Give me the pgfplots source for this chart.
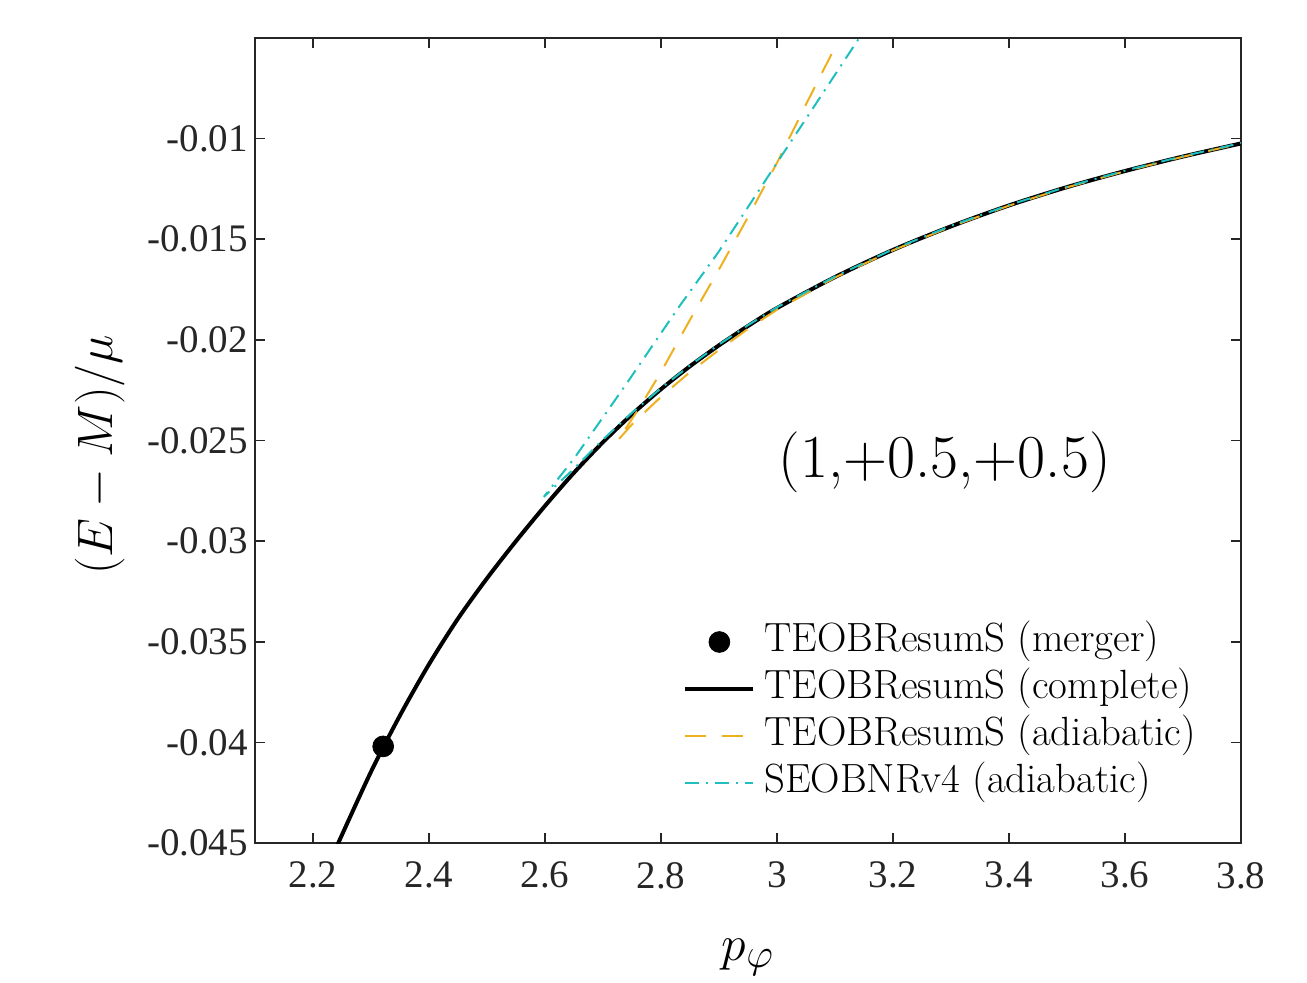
\documentclass[border=0pt]{standalone}
\usepackage{fontspec}
\usepackage{pgfplots}
\pgfplotsset{compat=1.18}
\setmainfont{Liberation Serif}
\newfontfamily\lmr{Latin Modern Roman}
\definecolor{axgray}{rgb}{0.15,0.15,0.15}
\definecolor{morange}{rgb}{0.929,0.694,0.125}
\definecolor{mcyan}{rgb}{0.12,0.75,0.75}

\begin{document}
\begin{tikzpicture}
\begin{axis}[
    name=ax,
    at={(0,0)}, anchor=south west,
    scale only axis,
    width=493pt, height=402.5pt,
    xmin=2.1, xmax=3.8,
    ymin=-0.045, ymax=-0.005,
    scaled y ticks=false,
    scaled x ticks=false,
    xtick={2.2,2.4,2.6,2.8,3.0,3.2,3.4,3.6,3.8},
    xticklabels={2.2,2.4,2.6,2.8,3,3.2,3.4,3.6,3.8},
    ytick={-0.045,-0.04,-0.035,-0.03,-0.025,-0.02,-0.015,-0.01},
    yticklabels={-0.045,-0.04,-0.035,-0.03,-0.025,-0.02,-0.015,-0.01},
    tick align=inside,
    major tick length=5pt,
    axis line style={axgray, line width=0.8pt},
    tick style={axgray, line width=0.8pt},
    tick label style={font=\rmfamily\fontsize{19.5}{22}\selectfont, text=axgray},
    xticklabel style={yshift=-6pt},
    xlabel={$p_\varphi$},
    ylabel={$(E-M)/\mu$},
    label style={font=\fontsize{31}{36}\selectfont},
    xlabel style={at={(axis description cs:0.5,-0.142)}, anchor=center},
    ylabel style={at={(axis description cs:-0.157,0.482)}, anchor=center},
    clip=true,
    legend cell align=left,
    legend image code/.code={
        \draw[mark repeat=2,mark phase=2,#1]
        plot coordinates {(0pt,0pt) (17pt,0pt) (34pt,0pt)};},
    legend style={draw=none, fill=none,
        at={(rel axis cs:0.428,0.28)}, anchor=north west,
        font=\lmr\fontsize{20.4}{23.5}\selectfont,
        nodes={inner sep=0.5pt, text height=14pt, text depth=5pt},
        row sep=3.5pt, column sep=4pt},
]
% merger point
\addplot[only marks, mark=*, mark size=5.2pt, black] coordinates {(2.321,-0.0402)};
\addlegendentry{TEOBResumS (merger)}

% complete
\addplot[black, line width=2pt, smooth] coordinates {
(2.24,-0.04523) (2.30,-0.04146) (2.35,-0.03866) (2.40,-0.03612)
(2.45,-0.03385) (2.50,-0.03185) (2.55,-0.03000) (2.60,-0.02825)
(2.65,-0.02660) (2.70,-0.02508) (2.75,-0.02370) (2.80,-0.02245)
(2.85,-0.02131) (2.90,-0.02027) (2.95,-0.01931) (3.00,-0.01842)
(3.10,-0.01688) (3.20,-0.01553) (3.30,-0.01436) (3.40,-0.01332)
(3.50,-0.01241) (3.60,-0.01161) (3.70,-0.01089) (3.80,-0.01024)
};
\addlegendentry{TEOBResumS (complete)}

% TEOBResumS adiabatic
\addplot[morange, line width=1pt, dash pattern=on 10.5pt off 8pt] coordinates {
(3.094,-0.0058) (3.05,-0.0083) (3.00,-0.0112) (2.95,-0.0139)
(2.90,-0.0165) (2.85,-0.0190) (2.80,-0.0216) (2.76,-0.0235)
(2.7254,-0.0250)
(2.75,-0.02420) (2.77,-0.02365) (2.80,-0.02283) (2.85,-0.02160)
(2.90,-0.02050) (2.95,-0.01945) (3.00,-0.01850) (3.10,-0.01690)
(3.20,-0.01555) (3.30,-0.01437) (3.40,-0.01333) (3.50,-0.01242)
(3.60,-0.01162) (3.70,-0.01090) (3.80,-0.01024)
};
\addlegendentry{TEOBResumS (adiabatic)}

% SEOBNRv4 adiabatic
\addplot[mcyan, line width=1pt, dash pattern=on 7pt off 3.5pt on 1pt off 3.5pt] coordinates {
(3.16,-0.0042) (3.00,-0.0112) (2.90,-0.0156) (2.83,-0.0184)
(2.74,-0.0222) (2.65,-0.0259) (2.598,-0.0278)
(2.65,-0.02640) (2.70,-0.02495) (2.75,-0.02362) (2.80,-0.02240)
(2.85,-0.02127) (2.90,-0.02023) (2.95,-0.01927) (3.00,-0.01838)
(3.10,-0.01685) (3.20,-0.01550) (3.30,-0.01433) (3.40,-0.01330)
(3.50,-0.01239) (3.60,-0.01159) (3.70,-0.01087) (3.80,-0.01022)
};
\addlegendentry{SEOBNRv4 (adiabatic)}

\node[font=\lmr\fontsize{30.5}{34}\selectfont] at (axis cs:3.289,-0.0261) {(1,+0.5,+0.5)};
\end{axis}
\path[use as bounding box] (-127.5pt,-63pt) rectangle (526pt,421.5pt);
\end{tikzpicture}
\end{document}
